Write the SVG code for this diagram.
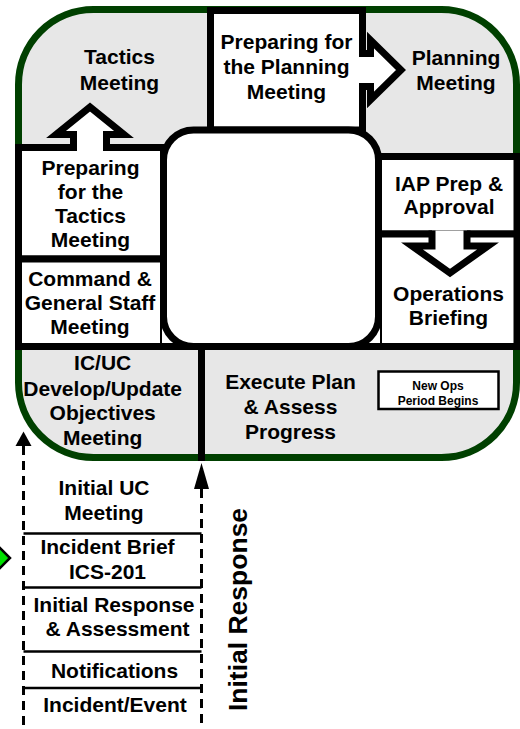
<svg xmlns="http://www.w3.org/2000/svg" width="520" height="729" viewBox="0 0 520 729">
<style>
.t{font-family:"Liberation Sans",Arial,sans-serif;font-weight:bold;font-size:21px;text-anchor:middle;fill:#000}
.s{font-size:12px}
.v{font-size:26.5px}
.box{fill:#fff;stroke:#000;stroke-width:7}
.ln{fill:none;stroke:#000;stroke-width:7}
.blk{fill:none;stroke:#000;stroke-width:7;stroke-linejoin:miter;stroke-miterlimit:10}
.wf{fill:#fff;stroke:none}
.dash{fill:none;stroke:#000;stroke-width:3;stroke-dasharray:9 6}
.sep{fill:none;stroke:#000;stroke-width:2.7}
.head{fill:#000;stroke:none}
</style>
<rect id="frame" x="18.5" y="9.5" width="498" height="448" rx="75" ry="75" fill="#e7e7e7" stroke="#004000" stroke-width="7"/>
<g id="tactics-meeting">
<text class="t" x="119.5" y="64">Tactics</text>
<text class="t" x="119.5" y="90">Meeting</text>
</g>
<g id="prep-planning">
<rect class="box" x="210.5" y="10.5" width="152" height="119.5"/>
<text class="t" x="286.5" y="49">Preparing for</text>
<text class="t" x="286.5" y="74">the Planning</text>
<text class="t" x="286.5" y="99">Meeting</text>
</g>
<g id="planning-meeting">
<text class="t" x="456" y="65">Planning</text>
<text class="t" x="456" y="89.5">Meeting</text>
</g>
<g id="prep-tactics">
<rect class="box" x="18.5" y="147.5" width="145" height="111.5"/>
<text class="t" x="90.5" y="174.5">Preparing</text>
<text class="t" x="90.5" y="199">for the</text>
<text class="t" x="90.5" y="222.5">Tactics</text>
<text class="t" x="90.5" y="247">Meeting</text>
</g>
<g id="command-staff">
<rect class="box" x="18.5" y="259" width="145" height="87.5"/>
<text class="t" x="90" y="285.5">Command &amp;</text>
<text class="t" x="90" y="310">General Staff</text>
<text class="t" x="90" y="334">Meeting</text>
</g>
<g id="iap-prep">
<rect class="box" x="378.5" y="156.5" width="138.5" height="77.5"/>
<text class="t" x="449" y="190.5">IAP Prep &amp;</text>
<text class="t" x="449" y="213.5">Approval</text>
</g>
<g id="ops-briefing">
<rect class="box" x="378.5" y="234" width="138.5" height="112.5"/>
<text class="t" x="448.5" y="300.5">Operations</text>
<text class="t" x="448.5" y="325">Briefing</text>
</g>
<g id="center">
<rect class="wf" x="162" y="300" width="218" height="46"/>
<rect class="box" x="163.5" y="130" width="215" height="216.5" rx="30" ry="30"/>
</g>
<g id="dividers">
<line class="ln" x1="18.5" y1="346.5" x2="517" y2="346.5"/>
<line class="ln" x1="201.5" y1="346.5" x2="201.5" y2="461"/>
</g>
<g id="objectives-meeting">
<text class="t" x="102.7" y="370">IC/UC</text>
<text class="t" x="102.7" y="396">Develop/Update</text>
<text class="t" x="102.7" y="420">Objectives</text>
<text class="t" x="102.7" y="445">Meeting</text>
</g>
<g id="execute-plan">
<text class="t" x="290.5" y="389">Execute Plan</text>
<text class="t" x="290.5" y="414">&amp; Assess</text>
<text class="t" x="290.5" y="439">Progress</text>
</g>
<g id="new-ops-period">
<rect x="378.5" y="371.5" width="120" height="37.5" fill="#fff" stroke="#000" stroke-width="2.5"/>
<text class="t s" x="438" y="389.5">New Ops</text>
<text class="t s" x="438" y="404.5">Period Begins</text>
</g>
<g id="initial-response-steps">
<line class="sep" x1="23.5" y1="533.5" x2="201.5" y2="533.5"/>
<line class="sep" x1="23.5" y1="587.5" x2="201.5" y2="587.5"/>
<line class="sep" x1="23.5" y1="651.5" x2="201.5" y2="651.5"/>
<line class="sep" x1="23.5" y1="688" x2="201.5" y2="688"/>
<text class="t" x="104" y="495">Initial UC</text>
<text class="t" x="104" y="520">Meeting</text>
<text class="t" x="107.5" y="554">Incident Brief</text>
<text class="t" x="107.5" y="579">ICS-201</text>
<text class="t" x="114" y="611.5">Initial Response</text>
<text class="t" x="117.5" y="635.5">&amp; Assessment</text>
<text class="t" x="114.5" y="677.5">Notifications</text>
<text class="t" x="115" y="711.5">Incident/Event</text>
</g>
<g id="initial-response-label">
<text class="t v" transform="translate(246.5,609.5) rotate(-90)">Initial Response</text>
</g>
<g id="side-marker">
<polygon points="-10,538 10,558 -10,578 -30,558" fill="#00e000" stroke="#000" stroke-width="2.5"/>
</g>
<g id="connectors">
<path class="wf" d="M73.5,151 L73.5,134.5 L56,134.5 L90,107 L124,134.5 L106.5,134.5 L106.5,151 Z"/>
<path class="blk" d="M73.5,151 L73.5,134.5 L56,134.5 L90,107 L124,134.5 L106.5,134.5 L106.5,151"/>
<path class="wf" d="M359,53.5 L370.5,53.5 L370.5,40 L401,70 L370.5,100 L370.5,86.5 L359,86.5 Z"/>
<path class="blk" d="M359,53.5 L370.5,53.5 L370.5,40 L401,70 L370.5,100 L370.5,86.5 L359,86.5"/>
<path class="wf" d="M432,230.5 L432,246 L412,246 L450,273 L488,246 L467,246 L467,230.5 Z"/>
<path class="blk" d="M432,230.5 L432,246 L412,246 L450,273 L488,246 L467,246 L467,230.5"/>
<line class="dash" x1="23.5" y1="446" x2="23.5" y2="729"/>
<polygon class="head" points="23.5,431.5 31.5,446 15.5,446"/>
<line class="dash" x1="201.5" y1="489" x2="201.5" y2="729"/>
<polygon class="head" points="201.5,463 209,489 194,489"/>
</g>
</svg>
